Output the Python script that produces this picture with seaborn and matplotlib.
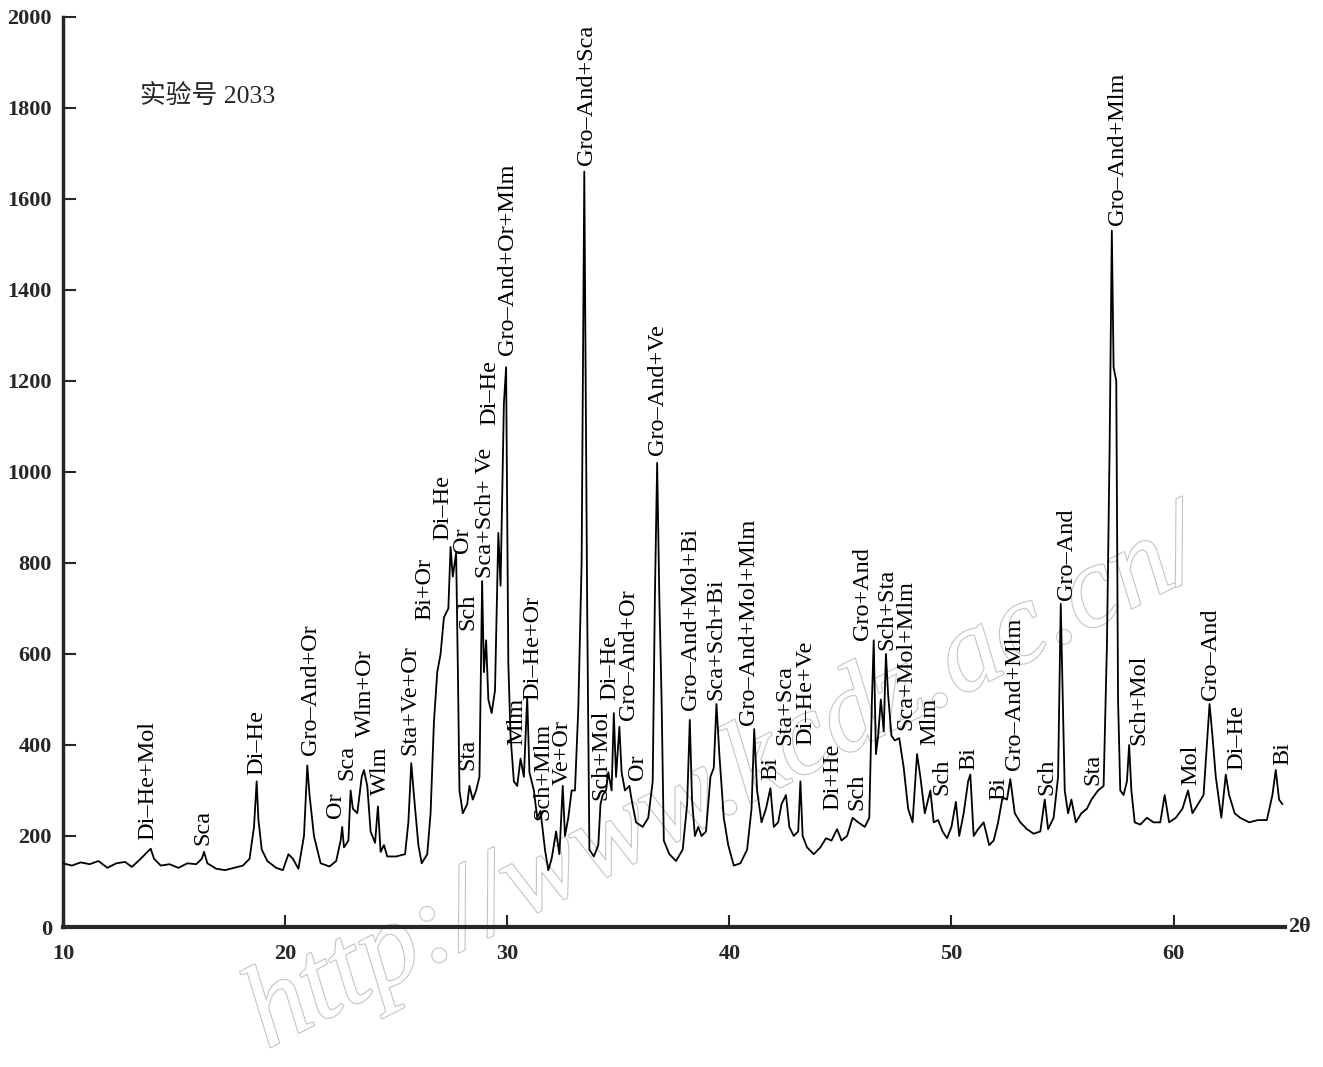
import matplotlib
matplotlib.use("Agg")
import numpy as np
import pandas as pd
import seaborn as sns
import matplotlib.patheffects as pe
from matplotlib import pyplot as plt

# trace (2-theta, counts)
two_theta = [
    10.0, 10.4, 10.8, 11.2, 11.6, 12.0, 12.4, 12.8, 13.1, 13.5, 13.8, 13.95, 14.1, 14.4, 14.8,
    15.2, 15.6, 16.0, 16.25, 16.35, 16.5, 16.9, 17.3, 17.7, 18.1, 18.4, 18.6, 18.72, 18.8, 18.95,
    19.2, 19.6, 19.9, 20.15, 20.35, 20.6, 20.85, 21.0, 21.1, 21.3, 21.6, 22.0, 22.3, 22.5, 22.57,
    22.65, 22.85, 22.95, 23.05, 23.25, 23.45, 23.55, 23.7, 23.85, 24.05, 24.18, 24.3, 24.45, 24.6,
    25.0, 25.4, 25.55, 25.68, 25.8, 26.0, 26.15, 26.4, 26.55, 26.7, 26.85, 27.0, 27.15, 27.35,
    27.45, 27.55, 27.7, 27.78, 27.85, 28.0, 28.2, 28.3, 28.45, 28.6, 28.75, 28.87, 28.95, 29.05,
    29.15, 29.3, 29.45, 29.6, 29.7, 29.85, 29.95, 30.05, 30.15, 30.3, 30.45, 30.6, 30.75, 30.9,
    31.0, 31.2, 31.35, 31.5, 31.7, 31.85, 32.0, 32.2, 32.35, 32.5, 32.6, 32.75, 32.9, 33.05,
    33.2, 33.35, 33.42, 33.47, 33.52, 33.6, 33.7, 33.9, 34.1, 34.2, 34.3, 34.45, 34.55, 34.7,
    34.8, 34.9, 35.05, 35.15, 35.3, 35.5, 35.6, 35.8, 36.1, 36.35, 36.55, 36.65, 36.75, 36.85,
    36.95, 37.05, 37.3, 37.6, 37.9, 38.1, 38.22, 38.32, 38.45, 38.6, 38.75, 38.95, 39.15, 39.3,
    39.42, 39.55, 39.75, 39.95, 40.2, 40.5, 40.8, 41.0, 41.12, 41.25, 41.45, 41.65, 41.85, 42.0,
    42.2, 42.35, 42.55, 42.7, 42.9, 43.1, 43.2, 43.3, 43.5, 43.8, 44.1, 44.35, 44.6, 44.85,
    45.05, 45.3, 45.55, 45.8, 46.1, 46.3, 46.42, 46.5, 46.6, 46.7, 46.82, 46.95, 47.05, 47.15,
    47.3, 47.45, 47.65, 47.85, 48.05, 48.25, 48.45, 48.6, 48.8, 49.05, 49.2, 49.4, 49.6, 49.8,
    50.0, 50.2, 50.35, 50.55, 50.75, 50.85, 51.0, 51.2, 51.45, 51.7, 51.9, 52.1, 52.3, 52.5,
    52.65, 52.85, 53.1, 53.4, 53.7, 54.0, 54.2, 54.35, 54.6, 54.8, 54.92, 55.02, 55.1, 55.25,
    55.4, 55.6, 55.85, 56.1, 56.3, 56.6, 56.85, 57.0, 57.12, 57.22, 57.3, 57.42, 57.5, 57.6,
    57.75, 57.9, 58.0, 58.1, 58.25, 58.5, 58.8, 59.1, 59.4, 59.6, 59.8, 60.1, 60.4, 60.65,
    60.85, 61.1, 61.35, 61.5, 61.62, 61.75, 61.9, 62.15, 62.35, 62.5, 62.75, 63.0, 63.4, 63.8,
    64.2, 64.45, 64.6, 64.75, 64.9,
]
counts = [
    140, 135, 142, 138, 145, 130, 140, 143, 132, 150, 165, 172, 150, 135, 138,
    130, 140, 138, 150, 165, 140, 128, 125, 130, 135, 150, 220, 320, 235, 170,
    145, 130, 125, 160, 150, 128, 200, 355, 290, 200, 140, 133, 145, 190, 220,
    175, 190, 300, 260, 250, 330, 345, 310, 210, 185, 265, 165, 180, 155,
    155, 160, 230, 360, 290, 180, 140, 160, 250, 450, 560, 600, 680, 700,
    835, 770, 822, 560, 300, 250, 270, 310, 280, 300, 330, 760, 560, 630,
    500, 470, 520, 866, 750, 1150, 1230, 580, 420, 320, 310, 370, 330, 505,
    340, 300, 240, 255, 170, 125, 150, 210, 160, 310, 200, 240, 300, 300,
    480, 800, 1290, 1660, 1280, 700, 170, 155, 180, 270, 290, 300, 340, 300,
    470, 330, 440, 340, 300, 310, 280, 230, 220, 240, 320, 730, 1020, 720,
    500, 190, 160, 145, 170, 270, 455, 280, 200, 220, 200, 210, 330, 350,
    490, 380, 240, 180, 135, 140, 170, 260, 435, 300, 230, 260, 305, 220,
    230, 270, 290, 220, 200, 210, 320, 200, 175, 160, 175, 195, 190, 215,
    190, 200, 240, 230, 220, 240, 500, 630, 380, 420, 500, 430, 600, 510,
    420, 410, 415, 350, 260, 230, 380, 330, 250, 300, 230, 235, 210, 195,
    220, 275, 200, 250, 320, 335, 200, 215, 230, 180, 190, 230, 285, 280,
    325, 250, 230, 215, 205, 210, 280, 215, 240, 330, 710, 480, 300, 250,
    280, 230, 250, 260, 280, 300, 310, 620, 1050, 1530, 1230, 1200, 500, 300,
    290, 320, 400, 300, 230, 225, 240, 230, 230, 290, 230, 240, 260, 300,
    250, 270, 290, 400, 490, 420, 330, 240, 335, 290, 250, 240, 230, 235,
    235, 290, 345, 280, 270,
]

# phase labels and where they sit (2-theta, counts at the text foot)
peak_names = [
    "Di–He+Mol", "Sca", "Di–He", "Gro–And+Or", "Or", "Sca", "Wlm+Or", "Wlm", "Sta+Ve+Or",
    "Bi+Or", "Di–He", "Or", "Sch", "Sta", "Sca+Sch+ Ve", "Di–He", "Gro–And+Or+Mlm", "Mlm",
    "Di–He+Or", "Sch+Mlm", "Ve+Or", "Gro–And+Sca", "Sch+Mol", "Di–He", "Gro–And+Or", "Or",
    "Gro–And+Ve", "Gro–And+Mol+Bi", "Sca+Sch+Bi", "Gro–And+Mol+Mlm", "Bi", "Sta+Sca",
    "Di–He+Ve", "Di+He", "Sch", "Gro+And", "Sch+Sta", "Sca+Mol+Mlm", "Mlm", "Sch", "Bi", "Bi",
    "Gro–And+Mlm", "Sch", "Gro–And", "Sta", "Gro–And+Mlm", "Sch+Mol", "Mol", "Gro–And",
    "Di–He", "Bi",
]
label_x = [
    13.83, 16.31, 18.74, 21.13, 22.25, 22.79, 23.6, 24.28, 25.63,
    26.31, 27.12, 27.97, 28.24, 28.24, 29.0, 29.23, 30.0, 30.45,
    31.17, 31.62, 32.48, 33.56, 34.23, 34.6, 35.45, 35.86,
    36.76, 38.24, 39.41, 40.86, 41.85, 42.52,
    43.45, 44.64, 45.72, 45.99, 47.08, 47.96, 49.01, 49.59, 50.77, 52.12,
    52.84, 54.28, 55.18, 56.35, 57.48, 58.42, 60.77, 61.67,
    62.84, 64.91,
]
label_y = [
    191, 180, 334, 378, 240, 323, 418, 290, 378,
    675, 851, 822, 653, 345, 767, 1103, 1257, 400,
    499, 235, 312, 1675, 279, 499, 455, 323,
    1037, 477, 499, 444, 323, 400,
    400, 257, 257, 631, 609, 433, 400, 290, 345, 279,
    345, 290, 719, 312, 1543, 400, 312, 499,
    345, 356,
]

y_ticks = [0, 200, 400, 600, 800, 1000, 1200, 1400, 1600, 1800, 2000]
x_ticks = [10, 20, 30, 40, 50, 60]

df = pd.DataFrame({"two_theta": two_theta, "counts": counts})

sns.set_style("ticks")
plt.rcParams["font.family"] = ["Liberation Serif", "DejaVu Serif"]

fig = plt.figure(figsize=(13.23, 10.67), dpi=100)
ax = fig.add_axes([0.0476, 0.1312, 0.9234, 0.853])

sns.lineplot(data=df, x="two_theta", y="counts", color="black", lw=1.3,
             estimator=None, sort=False, ax=ax, zorder=3)

for name, lx, ly in zip(peak_names, label_x, label_y):
    ax.text(lx, ly, name, rotation=90, ha="center", va="bottom",
            fontsize=17.5, color="black", zorder=4)

ax.text(13.47, 1824, "实验号 2033", ha="left", va="center", fontsize=18.5,
        family=["Liberation Serif", "Noto Sans CJK SC"])

ax.text(65.15, 0, "2θ", ha="left", va="center", fontsize=16,
        fontweight="bold", clip_on=False)

# faint site watermark across the plot
wm = ax.text(0.548, 0.265, "http://www.kcdz.ac.cn/", transform=fig.transFigure,
             ha="center", va="center", rotation=27, fontsize=84, style="italic",
             color="white", zorder=1)
wm.set_path_effects([pe.withStroke(linewidth=1.6, foreground="#c4c4c4")])

ax.set_xlim(10, 65)
ax.set_ylim(0, 2000)
ax.set_xticks(x_ticks)
ax.set_yticks(y_ticks)
ax.set_xlabel("")
ax.set_ylabel("")
ax.tick_params(direction="in", length=9, width=1.5, labelsize=16)
ax.tick_params(axis="x", pad=12)
ax.tick_params(axis="y", pad=8)
for lab in ax.get_xticklabels() + ax.get_yticklabels():
    lab.set_fontweight("bold")
sns.despine(ax=ax)
ax.spines["left"].set_linewidth(2.5)
ax.spines["bottom"].set_linewidth(3)

fig.savefig("out.png", dpi=100)
